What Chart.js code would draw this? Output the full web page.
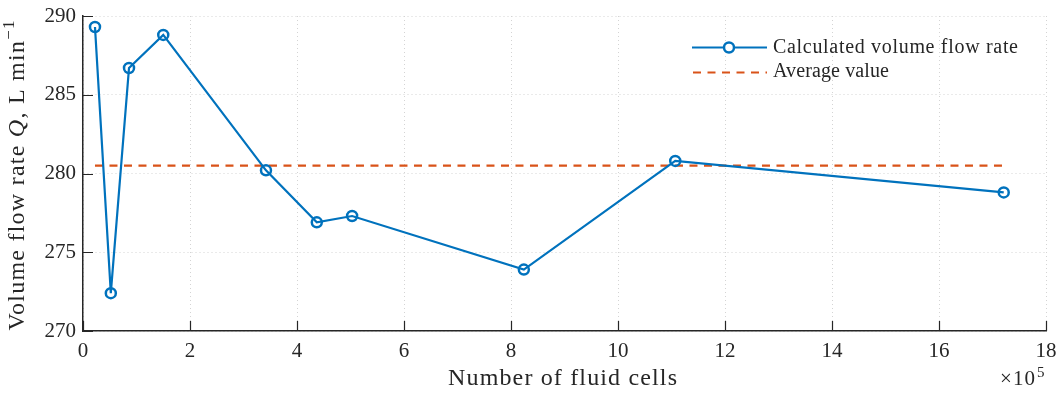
<!DOCTYPE html>
<html><head><meta charset="utf-8">
<script src="https://cdn.jsdelivr.net/npm/chart.js@4"></script>
<style>html,body{margin:0;padding:0;background:#fff}#wrap{width:1062px;height:394px}</style>
</head><body><div id="wrap"><canvas id="c" width="1062" height="394"></canvas></div>
<script>
// Data (x in units of 10^5 fluid cells)
const fluidCells = [0.224, 0.52, 0.86, 1.50, 3.42, 4.37, 5.03, 8.24, 11.07, 17.21];
const flowRate   = [289.3, 272.4, 286.7, 288.8, 280.2, 276.9, 277.3, 273.9, 280.8, 278.8];
const averageValue = 280.5;
const xTickValues = [0, 2, 4, 6, 8, 10, 12, 14, 16, 18];
const yTickValues = [270, 275, 280, 285, 290];
const seriesLabels = ['Calculated volume flow rate', 'Average value'];
const xTitle = 'Number of fluid cells';
const yTitleParts = ['Volume flow rate ', 'Q', ', L min', '\u22121'];
const xMultiplier = ['\u00d710', '5'];

const FONT = "'Liberation Serif', 'DejaVu Serif', serif";
const BLUE = '#0072BD', ORANGE = '#D95319', AXIS = '#262626', GRID = '#d4d4d4';
const HAS_LS = 'letterSpacing' in CanvasRenderingContext2D.prototype;

const calcPts = fluidCells.map((x, i) => ({x, y: flowRate[i]}));
const avgPts = [{x: fluidCells[0], y: averageValue}, {x: fluidCells[fluidCells.length - 1], y: averageValue}];

function setLS(ctx, px) { if (HAS_LS) ctx.letterSpacing = px + 'px'; }
// draw a run of styled text pieces stretched (via letter spacing) to a target width, starting at x (left)
function drawRuns(ctx, runs, x, y, target) {
  ctx.textAlign = 'left';
  setLS(ctx, 0);
  let W = 0, N = 0;
  runs.forEach(r => { ctx.font = r.f; W += ctx.measureText(r.t).width; N += [...r.t].length; });
  const sp = HAS_LS ? Math.max(0, (target - W) / Math.max(1, N - 1)) : 0;
  const total = W + sp * (N - 1);
  let cx = x === null ? -total / 2 : x;
  runs.forEach(r => {
    ctx.font = r.f; setLS(ctx, sp);
    ctx.fillText(r.t, cx, y + (r.dy || 0));
    cx += ctx.measureText(r.t).width;
  });
  setLS(ctx, 0);
  return total;
}

const decor = {
  id: 'decor',
  afterDraw(chart) {
    const {ctx, chartArea: a, scales: {x, y}} = chart;
    ctx.save();
    // inward tick marks
    ctx.strokeStyle = AXIS; ctx.lineWidth = 1.2;
    ctx.beginPath();
    xTickValues.forEach(v => { const px = Math.round(x.getPixelForValue(v)) + 0.5; ctx.moveTo(px, a.bottom); ctx.lineTo(px, a.bottom - 10); });
    yTickValues.forEach(v => { const py = Math.round(y.getPixelForValue(v)) + 0.5; ctx.moveTo(a.left, py); ctx.lineTo(a.left + 10, py); });
    ctx.stroke();

    ctx.fillStyle = AXIS; ctx.textAlign = 'left'; ctx.textBaseline = 'alphabetic';

    // y axis title with mixed styles
    ctx.save();
    ctx.translate(24, (a.top + a.bottom) / 2 + 2);
    ctx.rotate(-Math.PI / 2);
    drawRuns(ctx, [
      {t: yTitleParts[0], f: `24px ${FONT}`},
      {t: yTitleParts[1], f: `italic 24px ${FONT}`},
      {t: yTitleParts[2], f: `24px ${FONT}`},
      {t: yTitleParts[3], f: `17px ${FONT}`, dy: -10}
    ], null, 0, 310);
    ctx.restore();

    // x axis title
    ctx.save();
    ctx.translate((a.left + a.right) / 2 - 2, 385);
    drawRuns(ctx, [{t: xTitle, f: `24px ${FONT}`}], null, 0, 229);
    ctx.restore();

    // x10^5 multiplier
    drawRuns(ctx, [{t: xMultiplier[0], f: `21px ${FONT}`}], a.right - 46, 385, 35);
    drawRuns(ctx, [{t: xMultiplier[1], f: `15px ${FONT}`}], a.right - 9, 377, 7);

    // legend
    const lx = a.right - 354, ly1 = 47.5, ly2 = 72.5;
    ctx.lineWidth = 2.2;
    ctx.strokeStyle = BLUE;
    ctx.beginPath(); ctx.moveTo(lx, ly1); ctx.lineTo(lx + 75, ly1); ctx.stroke();
    ctx.fillStyle = '#fff'; ctx.lineWidth = 2.5;
    ctx.beginPath(); ctx.arc(lx + 37, ly1, 5, 0, Math.PI * 2); ctx.fill(); ctx.stroke();
    ctx.lineWidth = 2.2;
    ctx.strokeStyle = ORANGE; ctx.setLineDash([8, 6.5]);
    ctx.beginPath(); ctx.moveTo(lx + 1, ly2); ctx.lineTo(lx + 75, ly2); ctx.stroke();
    ctx.setLineDash([]);
    ctx.fillStyle = AXIS;
    drawRuns(ctx, [{t: seriesLabels[0], f: `20px ${FONT}`}], lx + 81, 53, 245);
    drawRuns(ctx, [{t: seriesLabels[1], f: `20px ${FONT}`}], lx + 81, 77, 116);
    ctx.restore();
  }
};

new Chart(document.getElementById('c'), {
  type: 'line',
  data: {
    datasets: [
      {label: seriesLabels[0], data: calcPts, borderColor: BLUE, borderWidth: 2.2, backgroundColor: 'rgba(0,0,0,0)',
       pointRadius: 5, pointBorderWidth: 2.5, pointBorderColor: BLUE, pointBackgroundColor: 'rgba(0,0,0,0)', tension: 0, order: 1},
      {label: seriesLabels[1], data: avgPts, borderColor: ORANGE, borderWidth: 2.2, borderDash: [8, 6.5], pointRadius: 0, tension: 0, order: 2}
    ]
  },
  options: {
    responsive: false, animation: false, devicePixelRatio: 1,
    layout: {padding: {top: 16, right: 16, left: 0, bottom: 0}},
    plugins: {legend: {display: false}, tooltip: {enabled: false}},
    scales: {
      x: {
        type: 'linear', min: 0, max: 18,
        afterFit(s) { s.height = 63; s.paddingLeft = 0; s.paddingRight = 0; },
        afterBuildTicks(s) { s.ticks = xTickValues.map(v => ({value: v})); },
        grid: {color: GRID, lineWidth: 1, drawTicks: false},
        border: {display: true, color: AXIS, width: 1.5, dash: [1, 3]},
        ticks: {padding: 8, color: AXIS, font: {family: FONT, size: 21}, maxRotation: 0},
        title: {display: false}
      },
      y: {
        type: 'linear', min: 270, max: 290,
        afterFit(s) { s.width = 83; s.paddingTop = 0; s.paddingBottom = 0; },
        afterBuildTicks(s) { s.ticks = yTickValues.map(v => ({value: v})); },
        grid: {color: GRID, lineWidth: 1, drawTicks: false},
        border: {display: true, color: AXIS, width: 1.5, dash: [1, 3]},
        ticks: {padding: 7, color: AXIS, font: {family: FONT, size: 21}},
        title: {display: false}
      }
    }
  },
  plugins: [decor]
});
</script></body></html>
